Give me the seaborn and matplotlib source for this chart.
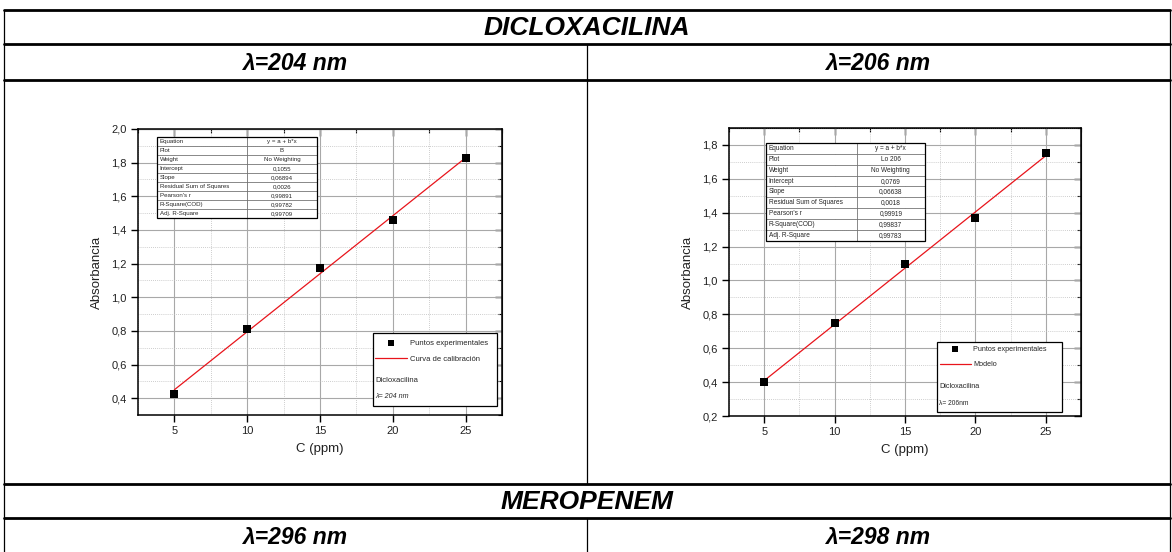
import matplotlib
matplotlib.use("Agg")
import matplotlib.pyplot as plt
from matplotlib.lines import Line2D
from matplotlib.patches import Rectangle
from matplotlib.table import Table
from matplotlib.ticker import MultipleLocator, FuncFormatter
import seaborn as sns
import numpy as np
import pandas as pd

# ---- data -------------------------------------------------------------
conc = [5, 10, 15, 20, 25]
abs_204 = [0.425, 0.81, 1.175, 1.46, 1.825]
abs_206 = [0.40, 0.75, 1.095, 1.37, 1.75]

intercept_204, slope_204 = 0.1055, 0.06894
intercept_206, slope_206 = 0.0769, 0.06638

stats_labels = ["Equation", "Plot", "Weight", "Intercept", "Slope",
                "Residual Sum of Squares", "Pearson's r", "R-Square(COD)",
                "Adj. R-Square"]
stats_204 = ["y = a + b*x", "B", "No Weighting", "0,1055", "0,06894",
             "0,0026", "0,99891", "0,99782", "0,99709"]
stats_206 = ["y = a + b*x", "Lo 206", "No Weighting", "0,0769", "0,06638",
             "0,0018", "0,99919", "0,99837", "0,99783"]

# ---- style ------------------------------------------------------------
sns.set_style("white")
plt.rcParams["font.family"] = ["Liberation Sans", "DejaVu Sans"]

W, H = 1172, 552
fig = plt.figure(figsize=(W / 100, H / 100), dpi=100)


def fx(px):
    return px / W


def fy(py):
    return 1 - py / H


def comma(v, pos=None):
    return f"{v:.1f}".replace(".", ",")


def stats_table(ax, labels, values, bbox, fs, split):
    tab = Table(ax, bbox=bbox)
    n = len(labels)
    h = 1.0 / n
    for i, (lab, val) in enumerate(zip(labels, values)):
        c0 = tab.add_cell(i, 0, split, h, text=lab, loc="left")
        c1 = tab.add_cell(i, 1, 1 - split, h, text=val, loc="center")
        for c in (c0, c1):
            c.set_linewidth(0.4)
            c.set_edgecolor("#555555")
            c.set_facecolor("white")
            c.get_text().set_fontsize(fs)
            c.PAD = 0.03
    tab.auto_set_font_size(False)
    tab.set_fontsize(fs)
    tab.set_zorder(9)
    ax.add_table(tab)
    frame = Rectangle((bbox[0], bbox[1]), bbox[2], bbox[3], transform=ax.transAxes,
                      fill=False, lw=0.9, ec="black", zorder=10)
    ax.add_patch(frame)


def calib_panel(rect, y, a, b, ylim, fit_label, stats, tbl_bbox, tbl_fs,
                tbl_split, leg_box, leg_top, leg_x, leg_fs, text_rows, lam_text,
                lam_italic):
    ax = fig.add_axes(rect)
    df = pd.DataFrame({"C": conc, "A": y})
    xs = np.array([conc[0], conc[-1]], dtype=float)
    fit = pd.DataFrame({"C": xs, "A": a + b * xs})
    sns.lineplot(data=fit, x="C", y="A", ax=ax, color="#e8141b", lw=0.9,
                 label=fit_label, zorder=3)
    sns.scatterplot(data=df, x="C", y="A", ax=ax, marker="s", s=34, color="black",
                    edgecolor="black", linewidth=0, label="Puntos experimentales", zorder=4)

    ax.set_xlim(2.5, 27.5)
    ax.set_ylim(*ylim)
    ax.xaxis.set_major_locator(MultipleLocator(5))
    ax.xaxis.set_minor_locator(MultipleLocator(2.5))
    ax.yaxis.set_major_locator(MultipleLocator(0.2))
    ax.yaxis.set_minor_locator(MultipleLocator(0.1))
    ax.yaxis.set_major_formatter(FuncFormatter(comma))
    ax.grid(True, which="major", color="#a8a8a8", lw=0.8)
    ax.grid(True, which="minor", color="#bdbdbd", lw=0.6, ls=(0, (1, 1.5)))
    ax.set_axisbelow(True)
    for s in ax.spines.values():
        s.set_visible(True)
        s.set_color("black")
        s.set_linewidth(1.1)
    ax.tick_params(which="major", direction="out", length=5, width=1.0,
                   labelsize=8, colors="black", labelcolor="#222222", pad=3)
    ax.tick_params(which="minor", direction="out", length=3, width=0.8, colors="black")
    ax.tick_params(left=True, bottom=True)
    # inward ticks on top and right
    top = ax.secondary_xaxis("top")
    top.xaxis.set_major_locator(MultipleLocator(5))
    top.xaxis.set_minor_locator(MultipleLocator(2.5))
    top.tick_params(which="major", direction="in", length=5, width=1.0,
                    labeltop=False, colors="black")
    top.tick_params(which="minor", direction="in", length=3, width=0.8, colors="black")
    right = ax.secondary_yaxis("right")
    right.yaxis.set_major_locator(MultipleLocator(0.2))
    right.yaxis.set_minor_locator(MultipleLocator(0.1))
    right.tick_params(which="major", direction="in", length=5, width=1.0,
                      labelright=False, colors="black")
    right.tick_params(which="minor", direction="in", length=3, width=0.8, colors="black")

    ax.set_xlabel("C (ppm)", fontsize=9.5, labelpad=5, color="#222222")
    ax.set_ylabel("Absorbancia", fontsize=9.5, labelpad=6, color="#222222")

    stats_table(ax, stats_labels, stats, tbl_bbox, tbl_fs, tbl_split)

    # legend box
    x0, y0, x1, y1 = leg_box
    handles, labels = ax.get_legend_handles_labels()
    order = [labels.index("Puntos experimentales"), labels.index(fit_label)]
    leg = ax.legend([handles[i] for i in order], [labels[i] for i in order],
                    loc="upper left", bbox_to_anchor=(leg_x, leg_top),
                    frameon=False, fontsize=leg_fs, handlelength=4.2, handletextpad=0.35,
                    labelspacing=1.15, borderpad=0, borderaxespad=0, markerscale=0.8)
    leg.set_zorder(12)
    ax.text(x0 + 0.006, text_rows[0], "Dicloxacilina", transform=ax.transAxes,
            fontsize=leg_fs, va="center", ha="left", zorder=12)
    ax.text(x0 + 0.006, text_rows[1], lam_text, transform=ax.transAxes,
            fontsize=leg_fs - 0.4, va="center", ha="left", zorder=12,
            style="italic" if lam_italic else "normal")
    box = Rectangle((x0, y0), x1 - x0, y1 - y0, transform=ax.transAxes,
                    facecolor="white", edgecolor="black", lw=0.9, zorder=11)
    ax.add_patch(box)
    return ax


# left panel: lambda = 204 nm
calib_panel(rect=[fx(138), fy(415), fx(364), 286 / H],
            y=abs_204, a=intercept_204, b=slope_204, ylim=(0.3, 2.0),
            fit_label="Curva de calibración", stats=stats_204,
            tbl_bbox=[0.052, 0.689, 0.44, 0.283], tbl_fs=4.4, tbl_split=0.56,
            leg_box=(0.646, 0.031, 0.986, 0.287), leg_top=0.265, leg_x=0.652,
            leg_fs=5.5, text_rows=(0.122, 0.063),
            lam_text="λ= 204 nm", lam_italic=True)

# right panel: lambda = 206 nm
calib_panel(rect=[fx(729), fy(416), fx(352), 288 / H],
            y=abs_206, a=intercept_206, b=slope_206, ylim=(0.2, 1.9),
            fit_label="Modelo", stats=stats_206,
            tbl_bbox=[0.105, 0.608, 0.452, 0.34], tbl_fs=4.7, tbl_split=0.57,
            leg_box=(0.591, 0.014, 0.946, 0.257), leg_top=0.243, leg_x=0.600,
            leg_fs=5.2, text_rows=(0.104, 0.042),
            lam_text="λ= 206nm", lam_italic=False)

# ---- surrounding table frame -----------------------------------------
def hline(py, lw=2.0):
    fig.add_artist(Line2D([fx(4), fx(1170)], [fy(py), fy(py)], color="black", lw=lw))


def vline(px, py0, py1, lw=0.9):
    fig.add_artist(Line2D([fx(px), fx(px)], [fy(py0), fy(py1)], color="black", lw=lw))


for py in (10, 44, 80, 484, 518):
    hline(py)
vline(4, 10, 552)
vline(1169.5, 10, 552)
vline(587, 44, 484)
vline(587, 518, 552)

title_kw = dict(fontweight="bold", style="italic", ha="center", va="center",
                color="black")
fig.text(fx(587), fy(28), "DICLOXACILINA", fontsize=19, **title_kw)
fig.text(fx(295), fy(63), "λ=204 nm", fontsize=16.5, **title_kw)
fig.text(fx(878), fy(63), "λ=206 nm", fontsize=16.5, **title_kw)
fig.text(fx(587), fy(502), "MEROPENEM", fontsize=19, **title_kw)
fig.text(fx(295), fy(537), "λ=296 nm", fontsize=16.5, **title_kw)
fig.text(fx(878), fy(537), "λ=298 nm", fontsize=16.5, **title_kw)

fig.savefig("out.png", dpi=100)
